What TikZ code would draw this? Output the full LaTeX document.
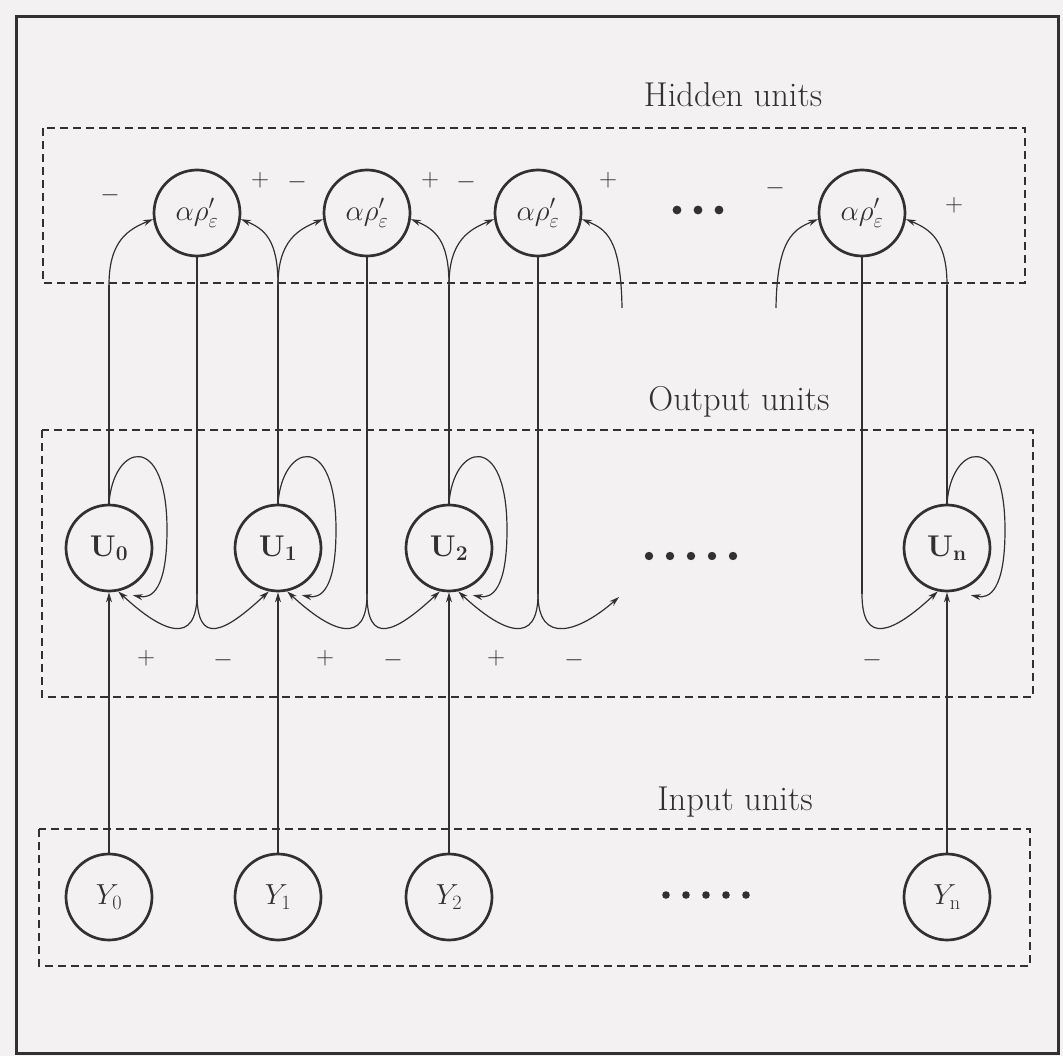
\RequirePackage{fix-cm}
\documentclass[tikz,border=0pt]{standalone}
\usetikzlibrary{arrows.meta,calc}
\definecolor{ink}{RGB}{52,48,50}
\definecolor{paper}{RGB}{243,241,242}
\begin{document}
\begin{tikzpicture}[x=1pt,y=-1pt,
  unit/.style={circle,draw=ink,line width=2.7pt,minimum size=86pt,inner sep=0pt,text=ink},
  conn/.style={draw=ink,line width=1.2pt},
  arr/.style={conn,-{Stealth[length=10pt,width=6pt]}},
  box/.style={draw=ink,line width=1.4pt,dash pattern=on 8pt off 5pt},
  sign/.style={text=ink,inner sep=0pt,font=\fontsize{25}{25}\selectfont},
  title/.style={text=ink,anchor=base,inner sep=0pt,font=\fontsize{34.5}{38}\selectfont},
  dotmark/.style={fill=ink,draw=none}]
\fill[paper] (0,0) rectangle (1063,1056);
\useasboundingbox (0,0) rectangle (1063,1056);
\draw[ink,line width=3pt] (16,17) rectangle (1058,1053);

% dashed groups
\draw[box] (43,128) rectangle (1025,283);
\draw[box] (42,430) rectangle (1033,697);
\draw[box] (39,829) rectangle (1030,966);

% titles
\node[title] (th) at (733,107) {Hidden units};
\node[title] (to) at (739,410) {Output units};
\node[title] (ti) at (735,810) {Input units};

% units
\foreach \i/\ux/\hx in {0/109/197, 1/278/367, 2/449/538, n/947/862}{
  \node[unit,font=\fontsize{29}{29}\selectfont] (H\i) at (\hx,213) {$\alpha\rho'_{\varepsilon}$};
  \node[unit,font=\fontsize{30}{30}\selectfont] (U\i) at (\ux,548) {$\mathbf{U}_{\mathbf{\i}}$};
  \node[unit,font=\fontsize{29}{29}\selectfont] (Y\i) at (\ux,897) {$Y_{\mathrm{\i}}$};
  \coordinate (t\i) at (\ux,285);
  \coordinate (s\i) at (\hx,594);
  % input to output
  \draw[arr] (Y\i.north) -- (U\i.south);
  % self loop
  \draw[arr] (U\i.north) .. controls +(4,-60) and +(0,-100) .. ($(U\i.north)+(58,26)$)
        .. controls +(0,60) and +(19,4) .. ($(U\i.-62)+(3,8)$);
  % output to hidden trunk
  \draw[conn] (U\i.north) -- (t\i);
  % hidden to output trunk
  \draw[conn] (H\i.south) -- (s\i);
}

% output -> hidden branches
\draw[arr] (t0) .. controls +(0,-45) and +(-24,10) .. (H0.188);
\draw[arr] (t1) .. controls +(0,-45) and +(24,10) .. (H0.-8);
\draw[arr] (t1) .. controls +(0,-45) and +(-24,10) .. (H1.188);
\draw[arr] (t2) .. controls +(0,-45) and +(24,10) .. (H1.-8);
\draw[arr] (t2) .. controls +(0,-45) and +(-24,10) .. (H2.188);
\draw[arr] (tn) .. controls +(0,-45) and +(24,10) .. (Hn.-8);
\coordinate (o2) at (622,308);
\coordinate (on) at (776,308);
\draw[arr] (o2) .. controls +(-1,-70) and +(24,10) .. (H2.-8);
\draw[arr] (on) .. controls +(1,-70) and +(-24,10) .. (Hn.188);

% hidden -> output branches
\draw[arr] (s0) .. controls +(0,52) and +(45,42) .. (U0.-78);
\draw[arr] (s0) .. controls +(0,52) and +(-45,42) .. (U1.-102);
\draw[arr] (s1) .. controls +(0,52) and +(45,42) .. (U1.-78);
\draw[arr] (s1) .. controls +(0,52) and +(-45,42) .. (U2.-102);
\draw[arr] (s2) .. controls +(0,52) and +(45,42) .. (U2.-78);
\coordinate (e2) at (619,597);
\draw[arr] (s2) .. controls +(0,52) and +(-40,35) .. (e2);
\draw[arr] (sn) .. controls +(0,52) and +(-45,42) .. (Un.-102);

% signs, hidden layer
\node[sign] (a1) at (110,195) {$-$};
\node[sign] (a2) at (260,180) {$+$};
\node[sign] (a3) at (297,182) {$-$};
\node[sign] (a4) at (430,180) {$+$};
\node[sign] (a5) at (466,182) {$-$};
\node[sign] (a6) at (608,180) {$+$};
\node[sign] (a7) at (775,188) {$-$};
\node[sign] (a8) at (954,205) {$+$};
% signs, output layer
\node[sign] (b1) at (146,658) {$+$};
\node[sign] (b2) at (223,660) {$-$};
\node[sign] (b3) at (325,658) {$+$};
\node[sign] (b4) at (393,660) {$-$};
\node[sign] (b5) at (496,658) {$+$};
\node[sign] (b6) at (574,660) {$-$};
\node[sign] (b7) at (872,660) {$-$};

% ellipses
\foreach \k in {-1,0,1}{\fill[dotmark] (698+21*\k,210) circle (4.4);}
\foreach \k in {-2,-1,0,1,2}{\fill[dotmark] (691+21*\k,556) circle (4.2);}
\foreach \k in {-2,-1,0,1,2}{\fill[dotmark] (706+20*\k,895) circle (3.8);}
\end{tikzpicture}
\end{document}
